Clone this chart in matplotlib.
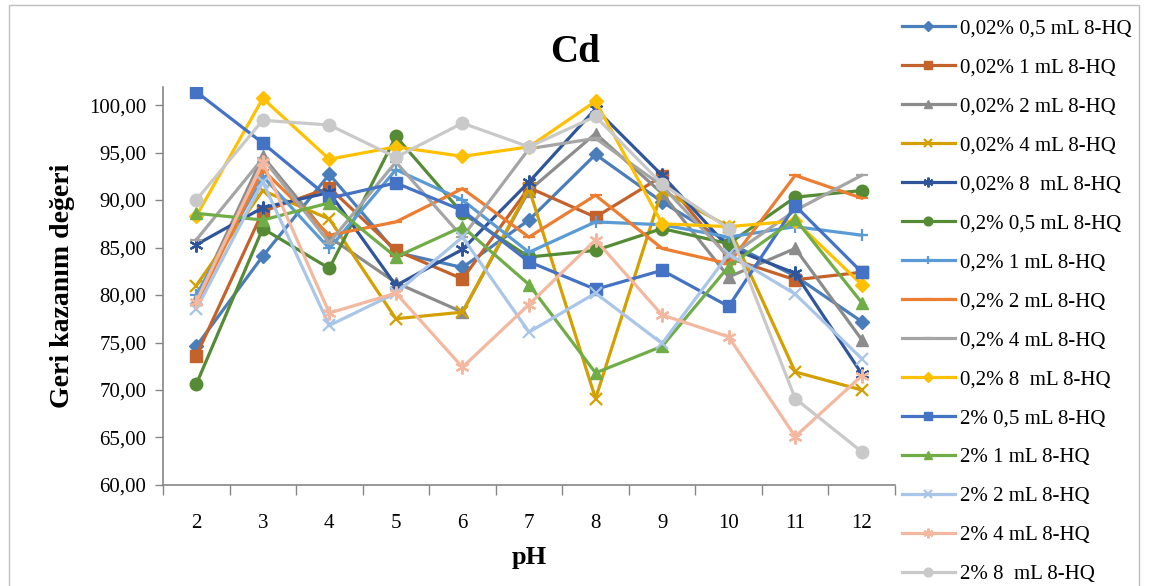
#!/usr/bin/env python3
"""
plot.py — Cd recovery vs pH for the 8-HQ series (15 lines), saved to out.png.
"""

import matplotlib

matplotlib.use("Agg")
import matplotlib.pyplot as plt
from matplotlib.patches import Rectangle

# pH categories
ph = [2, 3, 4, 5, 6, 7, 8, 9, 10, 11, 12]

# recovery values (Geri kazanım değeri)
s_002_05 = [74.6, 84.1, 92.7, 84.5, 82.9, 87.9, 94.8, 89.8, 85.5, 82.0, 77.2]
s_002_1 = [73.6, 88.8, 91.3, 84.7, 81.7, 91.3, 88.2, 92.5, 83.9, 81.6, 82.4]
s_002_2 = [79.6, 94.6, 86.1, 81.3, 78.2, 91.0, 97.0, 90.7, 81.9, 84.9, 75.3]
s_002_4 = [81.0, 91.0, 88.0, 77.5, 78.2, 91.2, 69.1, 91.0, 87.2, 71.9, 70.0]
s_002_8 = [85.3, 89.2, 90.8, 81.0, 84.8, 91.9, 99.6, 92.6, 85.0, 82.3, 71.7]
s_02_05 = [70.6, 87.0, 82.8, 96.7, 88.6, 84.0, 84.7, 87.0, 85.4, 90.3, 91.0]
s_02_1 = [80.0, 92.5, 84.9, 93.2, 90.0, 84.5, 87.7, 87.4, 86.1, 87.2, 86.3]
s_02_2 = [79.0, 93.2, 86.3, 87.7, 91.2, 86.1, 90.5, 84.9, 83.3, 92.6, 90.2]
s_02_4 = [85.8, 94.4, 85.5, 94.0, 86.1, 95.4, 96.5, 91.5, 84.0, 88.9, 92.6]
s_02_8 = [88.3, 100.7, 94.3, 95.6, 94.6, 95.6, 100.4, 87.5, 87.2, 87.8, 81.1]
s_2_05 = [101.4, 96.0, 90.2, 91.8, 88.9, 83.5, 80.6, 82.6, 78.8, 89.4, 82.4]
s_2_1 = [88.6, 87.9, 89.7, 84.0, 87.2, 81.1, 71.8, 74.6, 83.0, 88.0, 79.2]
s_2_2 = [78.5, 91.9, 76.8, 80.2, 86.1, 76.1, 80.2, 74.9, 84.3, 80.1, 73.3]
s_2_4 = [79.3, 94.0, 78.1, 80.2, 72.4, 79.0, 85.8, 77.9, 75.6, 65.1, 71.5]
s_2_8 = [90.0, 98.4, 97.9, 94.5, 98.1, 95.6, 98.8, 91.7, 87.0, 69.1, 63.5]

labels = [
    "0,02% 0,5 mL 8-HQ",
    "0,02% 1 mL 8-HQ",
    "0,02% 2 mL 8-HQ",
    "0,02% 4 mL 8-HQ",
    "0,02% 8  mL 8-HQ",
    "0,2% 0,5 mL 8-HQ",
    "0,2% 1 mL 8-HQ",
    "0,2% 2 mL 8-HQ",
    "0,2% 4 mL 8-HQ",
    "0,2% 8  mL 8-HQ",
    "2% 0,5 mL 8-HQ",
    "2% 1 mL 8-HQ",
    "2% 2 mL 8-HQ",
    "2% 4 mL 8-HQ",
    "2% 8  mL 8-HQ",
]

series = [
    s_002_05, s_002_1, s_002_2, s_002_4, s_002_8,
    s_02_05, s_02_1, s_02_2, s_02_4, s_02_8,
    s_2_05, s_2_1, s_2_2, s_2_4, s_2_8,
]

# (colour, marker, markersize) per series — Excel-like styling
STAR = (6, 2, 0)
styles = [
    ("#4A7EBB", "D", 7),
    ("#C4622B", "s", 9),
    ("#8C8C8C", "^", 9),
    ("#D4A000", "x", 9),
    ("#2F559A", STAR, 10),
    ("#558B35", "o", 9),
    ("#5B9BD5", "+", 9),
    ("#ED7D31", "_", 8),
    ("#A5A5A5", "_", 8),
    ("#FFC000", "D", 7),
    ("#4472C4", "s", 9),
    ("#70AD47", "^", 9),
    ("#A9C6E8", "x", 9),
    ("#F4B8A0", STAR, 10),
    ("#C9C9C9", "o", 9),
]

SERIF = ["Liberation Serif", "DejaVu Serif"]


def main():
    plt.rcParams["font.family"] = SERIF

    fig = plt.figure(figsize=(11.5, 5.86), dpi=100)
    ax = fig.add_axes([0.1417, 0.1724, 0.6366, 0.6791])

    for vals, lab, (c, m, ms) in zip(series, labels, styles):
        ax.plot(
            ph,
            vals,
            color=c,
            lw=2.3,
            marker=m,
            markersize=ms,
            markerfacecolor=c,
            markeredgecolor=c,
            markeredgewidth=1.6 if m in ("x", "+", "_", STAR) else 1.0,
            label=lab,
            solid_joinstyle="miter",
        )

    # category axis: ticks between categories, labels on categories
    ax.set_xlim(1.5, 12.5)
    ax.set_xticks([p + 0.5 for p in [1] + ph])
    ax.set_xticklabels([])
    ax.set_xticks(ph, minor=True)
    ax.set_xticklabels([str(p) for p in ph], minor=True)
    ax.tick_params(axis="x", which="major", length=7, width=1, color="#868686", direction="out")
    ax.tick_params(axis="x", which="minor", length=0, labelsize=15, pad=21)

    ax.set_ylim(60, 101.9)
    yt = list(range(60, 101, 5))
    ax.set_yticks(yt)
    ax.set_yticklabels([f"{v:.2f}".replace(".", ",") for v in yt])
    ax.tick_params(axis="y", length=6, width=1, color="#868686", direction="out", labelsize=15, pad=6)

    for sp in ("top", "right"):
        ax.spines[sp].set_visible(False)
    for sp in ("left", "bottom"):
        ax.spines[sp].set_color("#868686")
        ax.spines[sp].set_linewidth(1.2)

    ax.set_ylabel("Geri kazanım değeri", fontsize=20, fontweight="bold", labelpad=10)
    ax.set_xlabel("pH", fontsize=19, fontweight="bold", labelpad=9)
    fig.text(0.5, 0.91, "Cd", fontsize=28, fontweight="bold", ha="center", va="center")

    fig.legend(
        loc="upper left",
        bbox_to_anchor=(0.777, 0.982),
        frameon=False,
        fontsize=15,
        labelspacing=0.93,
        handlelength=2.55,
        handletextpad=0.25,
        markerscale=0.7,
        borderaxespad=0,
    )

    # outer chart border
    fig.patches.append(
        Rectangle((0.008, -0.02), 0.982, 1.011, transform=fig.transFigure, fill=False, ec="#BFBFBF", lw=1)
    )

    fig.savefig("out.png", dpi=100)
    plt.close(fig)


if __name__ == "__main__":
    main()
